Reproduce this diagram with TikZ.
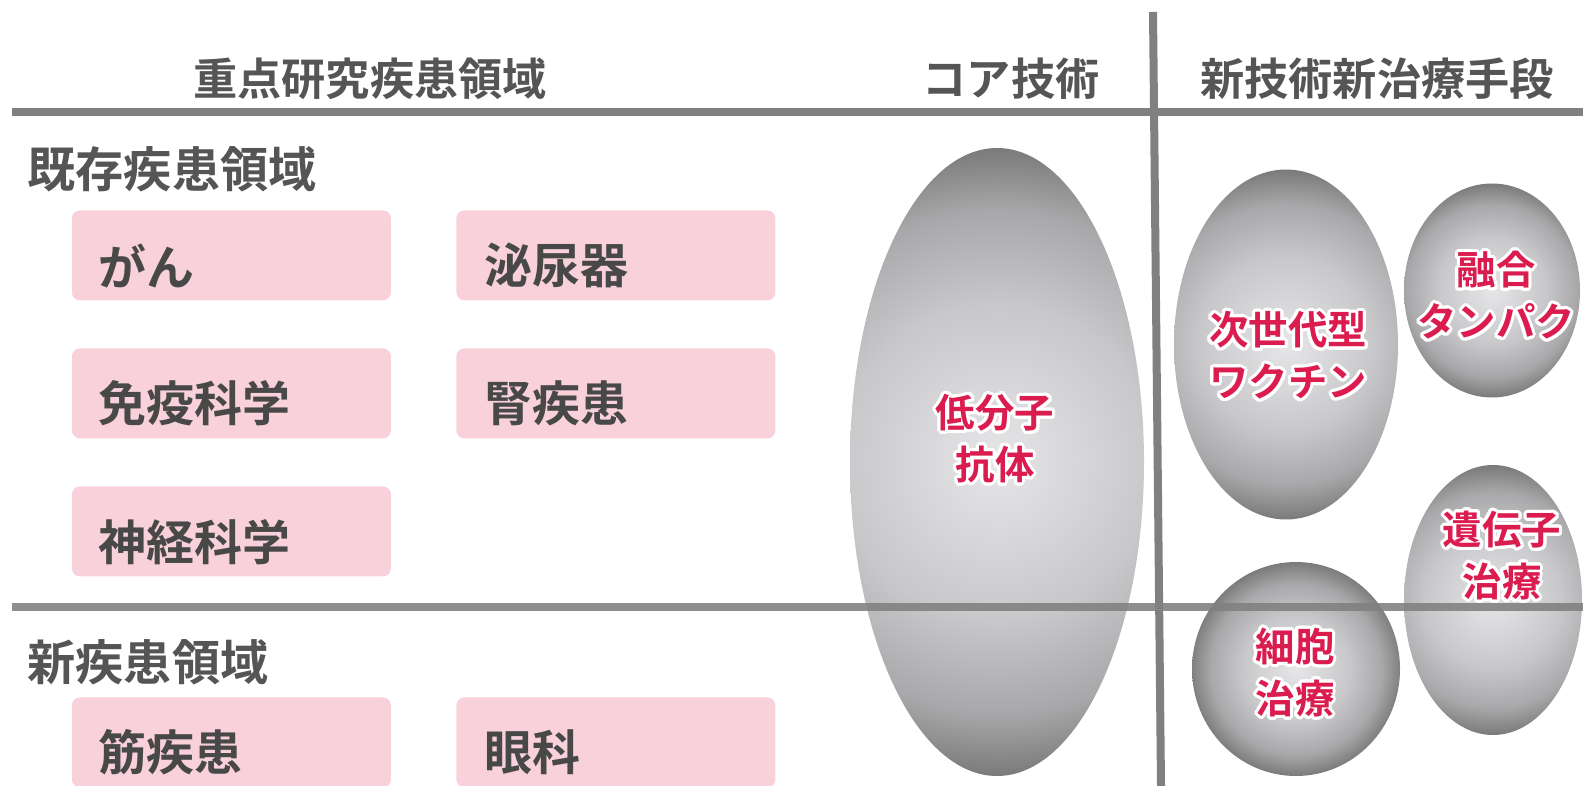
\documentclass[tikz,border=0pt]{standalone}
\usepackage{fontspec}
\usepackage{contour}
\usetikzlibrary{shapes.geometric}
\newfontfamily\jpb{Noto Sans CJK JP}[UprightFont={* Bold}]
\contourlength{1.5pt}
\contournumber{28}
\definecolor{linegray}{RGB}{128,128,128}
\definecolor{boxpink}{RGB}{248,209,219}
\definecolor{hdrgray}{RGB}{85,85,85}
\definecolor{boxtextgray}{RGB}{72,72,72}
\definecolor{tred}{RGB}{219,28,78}
\definecolor{ballin}{RGB}{230,230,232}
\definecolor{ballmid}{RGB}{200,200,202}
\definecolor{balldark}{RGB}{168,168,170}
\definecolor{ballout}{RGB}{122,122,122}
\pgfdeclareradialshading{ballshade}{\pgfpoint{0bp}{0bp}}{color(0bp)=(ballin); color(12.5bp)=(ballmid); color(20bp)=(balldark); color(25bp)=(ballout); color(50bp)=(ballout)}
\begin{document}
\begin{tikzpicture}[x=0.5pt,y=-0.5pt,
  hdr/.style={font=\jpb\fontsize{22.1pt}{26pt}\selectfont, text=hdrgray, inner sep=0},
  sect/.style={font=\jpb\fontsize{24.1pt}{28pt}\selectfont, text=hdrgray, anchor=west, inner sep=0},
  pinkbox/.style={fill=boxpink, rounded corners=4pt, minimum width=159.5pt, minimum height=45pt, inner sep=0, anchor=north west},
  boxtext/.style={font=\jpb\fontsize{24pt}{28pt}\selectfont, text=boxtextgray, anchor=west, inner sep=0},
  ball/.style 2 args={ellipse, inner sep=0, minimum width=#1pt, minimum height=#2pt,
    path picture={\shade[shading=ballshade] (path picture bounding box.center) circle [radius=#2*0.5pt];}},
  redtext/.style={font=\jpb\fontsize{19.7pt}{26pt}\selectfont, text=tred, align=center, inner sep=0},
  rule/.style={draw=linegray, line width=4pt},
]
\useasboundingbox (0,0) rectangle (1583,786);
% coordinates for rules
\coordinate (tl) at (12,112);
\coordinate (tr) at (1583,112);
\coordinate (ml) at (12,607);
\coordinate (mr) at (1583,607);
\coordinate (vt) at (1153,12);
\coordinate (vb) at (1161,786);
\draw[rule] (tl) -- (tr);
\draw[rule] (vt) -- (vb);
% headers
\node[hdr] (h1) at (370,79) {重点研究疾患領域};
\node[hdr] (h2) at (1011,79) {コア技術};
\node[hdr] (h3) at (1377,79) {新技術新治療手段};
% section titles
\node[sect] (s1) at (27,169.5) {既存疾患領域};
\node[sect] (s2) at (27,662) {新疾患領域};
% pink boxes
\node[pinkbox] (b1) at (71.5,210) {};
\node[pinkbox] (b2) at (456,210) {};
\node[pinkbox] (b3) at (71.5,348) {};
\node[pinkbox] (b4) at (456,348) {};
\node[pinkbox] (b5) at (71.5,486) {};
\node[pinkbox] (b6) at (71.5,697) {};
\node[pinkbox] (b7) at (456,697) {};
\node[boxtext] (t1) at (98,265.5) {がん};
\node[boxtext] (t2) at (484,265.5) {泌尿器};
\node[boxtext] (t3) at (98,403.5) {免疫科学};
\node[boxtext] (t4) at (484,403.5) {腎疾患};
\node[boxtext] (t5) at (98,542) {神経科学};
\node[boxtext] (t6) at (98,752.5) {筋疾患};
\node[boxtext] (t7) at (484,752.5) {眼科};
% ellipses
\node[ball={147}{314}] (e1) at (997,462) {};
\node[ball={112}{175}] (e2) at (1286,344.5) {};
\node[ball={88}{107}] (e3) at (1492,290.5) {};
\node[ball={89}{135}] (e4) at (1493,600) {};
\node[ball={104}{107}] (e5) at (1296,669) {};
% middle rule over ellipses
\draw[rule, draw opacity=0.88] (ml) -- (mr);
% ellipse labels
\node[redtext] (r1) at (995,440) {\contour{white}{低分子}\\\contour{white}{抗体}};
\node[redtext] (r2) at (1288,357) {\contour{white}{次世代型}\\\contour{white}{ワクチン}};
\node[redtext] (r3) at (1496,297) {\contour{white}{融合}\\\contour{white}{タンパク}};
\node[redtext] (r4) at (1502,557) {\contour{white}{遺伝子}\\\contour{white}{治療}};
\node[redtext] (r5) at (1295,674) {\contour{white}{細胞}\\\contour{white}{治療}};
\end{tikzpicture}
\end{document}
